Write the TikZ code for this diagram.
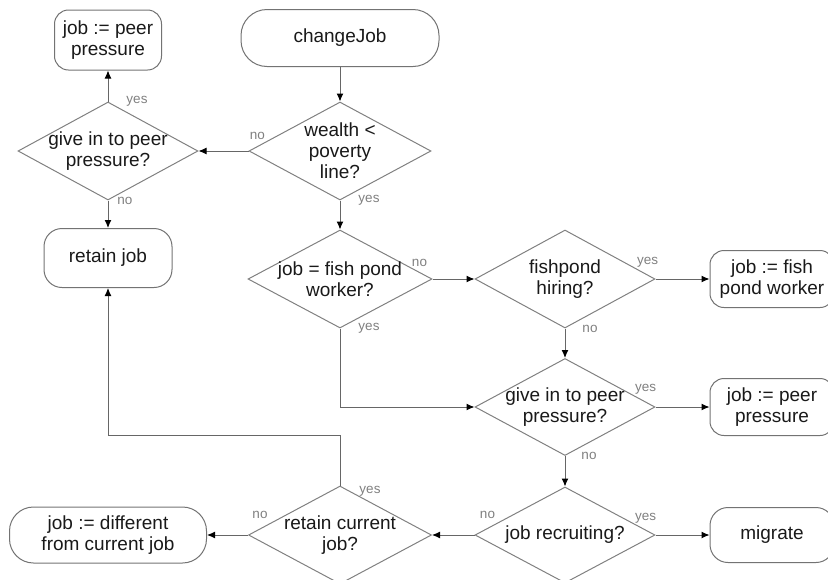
\documentclass[tikz,border=0pt]{standalone}
\usepackage{fontspec}
\setmainfont{Liberation Sans}
\usepackage{tikz}
\usetikzlibrary{shapes.geometric,arrows.meta}

\begin{document}
\begin{tikzpicture}[x=1pt,y=-1pt,
  every node/.style={font=\fontsize{19}{21}\selectfont, text=black!90},
  box/.style={draw=black!55, line width=1pt, rounded corners=18pt, align=center, inner sep=0pt},
  decision/.style={draw=black!50, line width=1pt, diamond, minimum width=182pt, minimum height=98pt, inner sep=0pt},
  dtext/.style={align=center, inner sep=0pt},
  flow/.style={draw=black!60, line width=1pt, -{Latex[length=8pt,width=7pt,color=black]}},
  lbl/.style={font=\fontsize{13.5}{14}\selectfont, text=black!50, inner sep=0pt}]
\useasboundingbox (0,0) rectangle (828,579);

% left column
\node[box, minimum width=107pt, minimum height=60pt, rounded corners=14pt] (jobPeerA) at (108,40) {job := peer\\pressure};
\node[decision, minimum width=180pt] (peerA) at (108,151) {};
\node[dtext] (peerAT) at (peerA) {give in to peer\\pressure?};
\node[box, minimum width=128pt, minimum height=59pt] (retainJob) at (108,258) {retain job};
\node[box, minimum width=197pt, minimum height=56pt, rounded corners=24pt] (jobDiff) at (108,535) {job := different\\from current job};

% middle column
\node[box, minimum width=198pt, minimum height=57pt, rounded corners=26pt] (changeJob) at (340,38) {changeJob};
\node[decision] (wealth) at (340,151) {};
\node[dtext] (wealthT) at (wealth) {wealth <\\poverty\\line?};
\node[decision, minimum width=184pt] (fishWorker) at (340,279) {};
\node[dtext] (fishWorkerT) at (fishWorker) {job = fish pond\\worker?};
\node[decision, minimum width=183pt] (retainCur) at (340,535) {};
\node[dtext] (retainCurT) at (retainCur) {retain current\\job?};

% right column
\node[decision, minimum width=180pt] (fishHiring) at (565,279) {};
\node[dtext] (fishHiringT) at (fishHiring) {fishpond\\hiring?};
\node[decision, minimum width=180pt, minimum height=97pt] (peerB) at (565,407) {};
\node[dtext] (peerBT) at (peerB) {give in to peer\\pressure?};
\node[decision, minimum width=180pt, minimum height=96pt] (recruiting) at (565,535) {};
\node[dtext] (recruitingT) at (recruiting) {job recruiting?};

% outcomes at the edge
\node[box, minimum width=124pt, minimum height=57pt, rounded corners=14pt] (jobFish) at (772,279) {job := fish\\pond worker};
\node[box, minimum width=124pt, minimum height=57pt, rounded corners=14pt] (jobPeerB) at (772,407) {job := peer\\pressure};
\node[box, minimum width=124pt, minimum height=55pt] (migrate) at (772,535) {migrate};

\draw[flow] (changeJob) -- (wealth);
\draw[flow] (wealth.west) node[lbl, xshift=9pt, yshift=15pt] (noA) {no} -- (peerA.east);
\draw[flow] (peerA.north) node[lbl, xshift=29pt] (yesA) {yes} -- (jobPeerA.south);
\draw[flow] (peerA.south) node[lbl, xshift=17pt] (noB) {no} -- (retainJob.north);
\draw[flow] (wealth.south) node[lbl, xshift=29pt] (yesB) {yes} -- (fishWorker.north);
\draw[flow] (fishWorker.east) node[lbl, xshift=-13pt, yshift=16pt] (noC) {no} -- (fishHiring.west);
\draw[flow] (fishWorker.south) node[lbl, xshift=29pt] (yesC) {yes} |- (peerB.west);
\draw[flow] (fishHiring.east) node[lbl, xshift=-8pt, yshift=17pt] (yesD) {yes} -- (jobFish.west);
\draw[flow] (fishHiring.south) node[lbl, xshift=25pt] (noD) {no} -- (peerB.north);
\draw[flow] (peerB.east) node[lbl, xshift=-10pt, yshift=18pt] (yesE) {yes} -- (jobPeerB.west);
\draw[flow] (peerB.south) node[lbl, xshift=24pt] (noE) {no} -- (recruiting.north);
\draw[flow] (recruiting.east) node[lbl, xshift=-10pt, yshift=17pt] (yesF) {yes} -- (migrate.west);
\draw[flow] (recruiting.west) node[lbl, xshift=13pt, yshift=20pt] (noF) {no} -- (retainCur.east);
\draw[flow] (retainCur.west) node[lbl, xshift=12pt, yshift=20pt] (noG) {no} -- (jobDiff.east);
\draw[flow] (retainCur.north) node[lbl, xshift=30pt, yshift=-6pt] (yesG) {yes} -- ++(0,-50) -| (retainJob.south);
\end{tikzpicture}
\end{document}
